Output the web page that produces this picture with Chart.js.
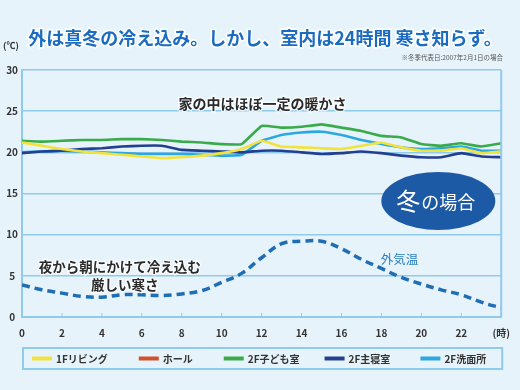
<!DOCTYPE html>
<html>
<head>
<meta charset="utf-8">
<script src="https://cdn.jsdelivr.net/npm/chart.js@4.4.0/dist/chart.umd.min.js"></script>
<style>
    html, body {margin: 0; padding: 0; background: #e7f3fb;}
    #wrap {width: 520px; height: 390px;}
</style>
</head>
<body>
<div id="wrap"><canvas id="winter" width="520" height="390"></canvas></div>
<script>
// 時刻 (時)
const hours = [0, 1, 2, 3, 4, 5, 6, 7, 8, 9, 10, 11, 12, 13, 14, 15, 16, 17, 18, 19, 20, 21, 22, 23, 24]

// 室内の温度 (℃)
const living = [21.2, 20.8, 20.4, 20.1, 19.9, 19.7, 19.5, 19.3, 19.4, 19.6, 19.9, 20.4, 21.4, 20.7, 20.6, 20.5, 20.4, 20.8, 21.2, 20.6, 20.2, 20.2, 20.5, 19.9, 20.1]
const hall = []
const kidsRoom = [21.4, 21.3, 21.4, 21.5, 21.5, 21.6, 21.6, 21.5, 21.3, 21.2, 21.0, 21.0, 23.2, 23.0, 23.1, 23.4, 23.0, 22.6, 22.0, 21.8, 21.0, 20.8, 21.1, 20.7, 21.1]
const bedroom = [19.9, 20.1, 20.2, 20.4, 20.5, 20.7, 20.8, 20.8, 20.3, 20.2, 20.1, 20.0, 20.2, 20.2, 20.0, 19.8, 19.9, 20.1, 19.9, 19.6, 19.4, 19.4, 19.9, 19.5, 19.4]
const washroom = [20.0, 20.1, 20.2, 20.1, 20.0, 19.9, 19.8, 19.8, 19.8, 19.7, 19.6, 19.7, 21.4, 22.1, 22.4, 22.5, 22.1, 21.5, 21.0, 20.6, 20.4, 20.5, 20.7, 20.2, 20.2]

// 外気温 (℃)
const outdoor = [3.9, 3.3, 2.9, 2.5, 2.4, 2.7, 2.7, 2.6, 2.8, 3.2, 4.2, 5.3, 7.2, 8.9, 9.2, 9.2, 8.3, 7.0, 5.9, 4.8, 4.0, 3.3, 2.7, 1.8, 1.1]

const roomNames = ['1Fリビング', 'ホール', '2F子ども室', '2F主寝室', '2F洗面所']

const JP = '"Noto Sans CJK JP", "Noto Sans", sans-serif'

const toPoints = arr => arr.map((v, i) => ({x: hours[i], y: v}))

// 見出し・注記・凡例
const decorations = {
    id: 'decorations',
    beforeDraw(chart) {
        const {ctx} = chart
        ctx.save()
        ctx.fillStyle = '#e7f3fb'
        ctx.fillRect(0, 0, chart.width, chart.height)
        ctx.restore()
    },
    afterDatasetsDraw(chart) {
        const {ctx, chartArea} = chart
        const x = chart.scales.x
        const y = chart.scales.y
        ctx.save()

        // 右枠
        ctx.strokeStyle = '#8ecbec'
        ctx.lineWidth = 2
        ctx.beginPath()
        ctx.moveTo(chartArea.right, chartArea.top)
        ctx.lineTo(chartArea.right, chartArea.bottom)
        ctx.stroke()

        // 下の目盛り(内向き)
        ctx.lineWidth = 1
        x.ticks.forEach(t => {
            const px = x.getPixelForValue(t.value)
            ctx.beginPath()
            ctx.moveTo(px, chartArea.bottom)
            ctx.lineTo(px, chartArea.bottom - 4)
            ctx.stroke()
        })

        // タイトル
        ctx.textAlign = 'center'
        ctx.textBaseline = 'middle'
        ctx.font = `bold 18px ${JP}`
        ctx.lineWidth = 3
        ctx.strokeStyle = '#ffffff'
        ctx.strokeText('外は真冬の冷え込み。しかし、室内は24時間 寒さ知らず。', 265, 38)
        ctx.fillStyle = '#1b6cc0'
        ctx.fillText('外は真冬の冷え込み。しかし、室内は24時間 寒さ知らず。', 265, 38)

        ctx.textAlign = 'right'
        ctx.font = `6.5px ${JP}`
        ctx.fillStyle = '#555'
        ctx.fillText('※冬季代表日:2007年2月1日の場合', 503, 58)

        ctx.textAlign = 'center'
        ctx.font = `bold 9px ${JP}`
        ctx.fillStyle = '#333'
        ctx.fillText('(℃)', 11, 46)

        // 注釈
        ctx.lineWidth = 2.5
        ctx.strokeStyle = 'rgba(255,255,255,0.8)'
        ctx.fillStyle = '#2a2a2a'
        ctx.font = `bold 14px ${JP}`
        const note = (text, hx, ty) => {
            const px = x.getPixelForValue(hx)
            const py = y.getPixelForValue(ty)
            ctx.strokeText(text, px, py)
            ctx.fillText(text, px, py)
        }
        note('家の中はほぼ一定の暖かさ', 12.05, 25.9)
        ctx.font = `bold 13.5px ${JP}`
        note('夜から朝にかけて冷え込む', 4.9, 6.1)
        note('厳しい寒さ', 5.15, 3.9)

        ctx.font = `12.5px ${JP}`
        ctx.fillStyle = '#2b80c4'
        ctx.fillText('外気温', x.getPixelForValue(18.9), y.getPixelForValue(7.0))

        // 冬の場合
        const cx = x.getPixelForValue(20.85)
        const cy = y.getPixelForValue(14.1)
        ctx.fillStyle = '#1d5aa6'
        ctx.beginPath()
        ctx.ellipse(cx, cy, 57, 29, 0, 0, Math.PI * 2)
        ctx.fill()
        ctx.fillStyle = '#ffffff'
        ctx.textAlign = 'left'
        ctx.font = `24px ${JP}`
        ctx.fillText('冬', cx - 42, cy)
        ctx.font = `18px ${JP}`
        ctx.fillText('の場合', cx - 17, cy + 1)

        // 凡例
        const lx = chartArea.left
        const lw = chartArea.right - chartArea.left
        ctx.strokeStyle = '#8ecbec'
        ctx.lineWidth = 2
        ctx.strokeRect(lx + 1, 348, lw, 21)
        const slot = lw / roomNames.length
        ctx.font = `bold 10px ${JP}`
        roomNames.forEach((name, i) => {
            const ds = chart.data.datasets[i]
            const tw = ctx.measureText(name).width
            const total = 20 + 4 + tw
            const sx = lx + slot * i + slot / 2 - total / 2
            ctx.strokeStyle = ds.borderColor
            ctx.lineWidth = 4
            ctx.beginPath()
            ctx.moveTo(sx, 358.5)
            ctx.lineTo(sx + 20, 358.5)
            ctx.stroke()
            ctx.fillStyle = '#333'
            ctx.textAlign = 'left'
            ctx.fillText(name, sx + 24, 359)
        })

        ctx.restore()
    }
}

const lineSet = (label, data, color) => ({
    label: label,
    data: toPoints(data),
    borderColor: color,
    backgroundColor: color,
    borderWidth: 2.6,
    pointRadius: 0,
    tension: 0.1,
    fill: false
})

const config = {
    type: 'line',
    data: {
        datasets: [
            lineSet(roomNames[0], living, '#f2e23c'),
            lineSet(roomNames[1], hall, '#d2502a'),
            lineSet(roomNames[2], kidsRoom, '#3aab4a'),
            lineSet(roomNames[3], bedroom, '#22408f'),
            lineSet(roomNames[4], washroom, '#2ba8e0'),
            {
                label: '外気温',
                data: toPoints(outdoor),
                borderColor: '#1f6db3',
                borderWidth: 3.5,
                borderDash: [8, 5],
                pointRadius: 0,
                tension: 0.4,
                fill: false
            }
        ]
    },
    options: {
        responsive: false,
        animation: false,
        layout: {padding: {left: 0, top: 70, right: 15, bottom: 0}},
        plugins: {
            legend: {display: false},
            tooltip: {enabled: false}
        },
        scales: {
            x: {
                type: 'linear',
                min: 0,
                max: 24,
                afterFit: scale => { scale.height = 73 },
                grid: {display: false, drawTicks: false},
                border: {display: true, color: '#8ecbec', width: 2},
                ticks: {
                    stepSize: 2,
                    padding: 10,
                    color: '#333',
                    font: {family: JP, size: 10, weight: 'bold'},
                    callback: v => v === 24 ? '(時)' : v
                }
            },
            y: {
                min: 0,
                max: 30,
                afterFit: scale => { scale.width = 22 },
                grid: {color: '#8ecbec', lineWidth: 1.6, drawTicks: false},
                border: {display: true, color: '#8ecbec', width: 2},
                ticks: {
                    stepSize: 5,
                    padding: 4,
                    crossAlign: 'center',
                    color: '#333',
                    font: {family: JP, size: 10, weight: 'bold'}
                }
            }
        }
    },
    plugins: [decorations]
}

const ctx = document.getElementById('winter').getContext('2d')
new Chart(ctx, config)
</script>
</body>
</html>
